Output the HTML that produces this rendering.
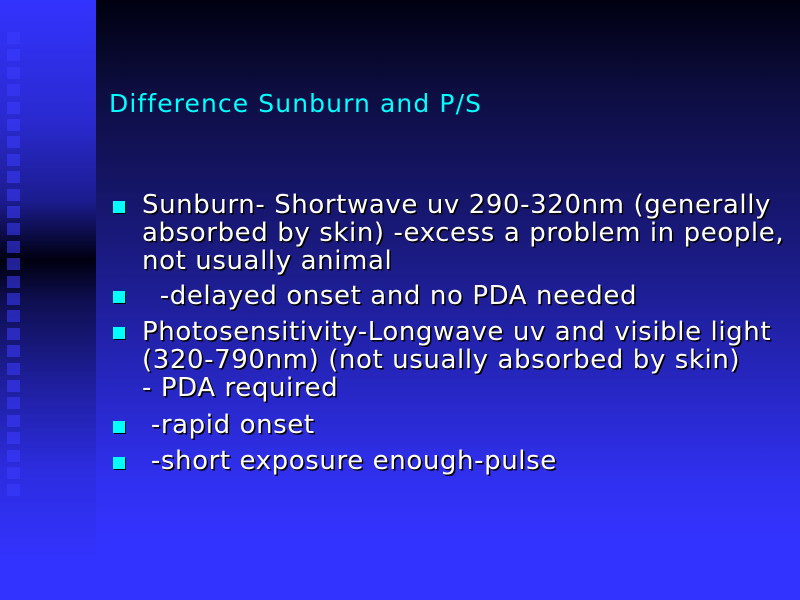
<!DOCTYPE html>
<html><head><meta charset="utf-8"><style>
html,body{margin:0;padding:0}
body{width:800px;height:600px;overflow:hidden;position:relative;background:#3333ff;font-family:"DejaVu Sans","Liberation Sans",sans-serif}
#main{position:absolute;left:96px;top:0;width:704px;height:600px;background:linear-gradient(to bottom,#000010 0px,#0d0d40 90px,#1a1a80 250px,#2626c0 380px,#3030f0 480px,#3333ff 540px)}
#strip{position:absolute;left:0;top:0;width:96px;height:600px;background:linear-gradient(to bottom,#3333ff 0px,#2a2ad0 120px,#1c1c90 200px,#000010 260px,#0e0e50 300px,#1e1e9a 380px,#2c2ce0 470px,#3333ff 560px)}
.sq{position:absolute;left:7px;width:13px;height:12px;background:rgba(60,60,255,0.55)}
.t{position:absolute;color:#fff;font-size:26px;letter-spacing:0.6px;line-height:28px;white-space:nowrap;text-shadow:1.5px 1.5px 0 #000}
.b{position:absolute;left:113px;width:12px;height:12px;background:#00ffff;box-shadow:1px 1px 0 #000}
#title{position:absolute;left:109px;top:89px;color:#00ffff;font-size:25px;letter-spacing:1.1px;line-height:30px;white-space:nowrap}
</style></head><body>
<div id="strip"></div>
<div id="main"></div>
<div id="title">Difference Sunburn and P/S</div>
<div class="b" style="top:201px"></div>
<div class="t" style="left:142px;top:191px">Sunburn- Shortwave uv 290-320nm (generally</div>
<div class="t" style="left:142px;top:219px">absorbed by skin) -excess a problem in people,</div>
<div class="t" style="left:142px;top:247px">not usually animal</div>
<div class="b" style="top:291px"></div>
<div class="t" style="left:142px;top:282px">&nbsp; -delayed onset and no PDA needed</div>
<div class="b" style="top:327px"></div>
<div class="t" style="left:142px;top:318px">Photosensitivity-Longwave uv and visible light</div>
<div class="t" style="left:142px;top:346px">(320-790nm) (not usually absorbed by skin)</div>
<div class="t" style="left:142px;top:374px">- PDA required</div>
<div class="b" style="top:421px"></div>
<div class="t" style="left:142px;top:411px">&nbsp;-rapid onset</div>
<div class="b" style="top:457px"></div>
<div class="t" style="left:142px;top:447px">&nbsp;-short exposure enough-pulse</div>
<script>
for(let i=0;i<27;i++){
  const d=document.createElement('div');
  d.className='sq';
  d.style.top=(32+i*17.4)+'px';
  
  
  document.body.appendChild(d);
}
</script>
</body></html>
